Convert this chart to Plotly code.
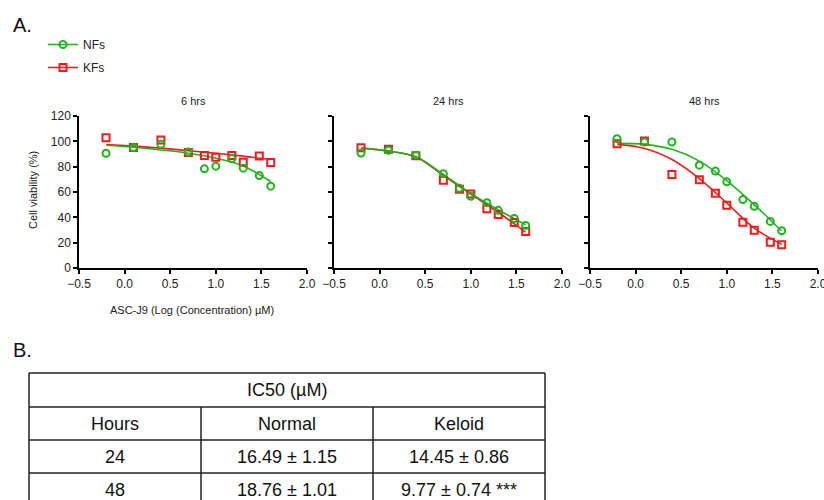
import plotly.graph_objects as go

W, H = 824, 500
PAGE_OFF = 0  # body margin removed via post_script below

# ---------------- data ----------------
log_conc = [-0.204, 0.097, 0.398, 0.699, 0.875, 1.0, 1.176, 1.301, 1.477, 1.602]

panels = ["6 hrs", "24 hrs", "48 hrs"]

nf_points = {
    "6 hrs":  [90.6, 95.1, 97.7, 91.6, 78.3, 80.4, 86.4, 78.8, 73.0, 64.6],
    "24 hrs": [90.7, 93.0, 89.1, 74.5, 62.9, 56.6, 51.5, 45.5, 39.1, 33.6],
    "48 hrs": [102.1, 99.5, 99.5, 81.2, 76.5, 68.0, 54.0, 48.7, 36.8, 29.4],
}
kf_points = {
    "6 hrs":  [102.9, 95.1, 101.1, 91.1, 88.8, 87.4, 88.8, 83.5, 88.5, 83.2],
    "24 hrs": [94.9, 93.8, 88.6, 69.3, 62.1, 58.4, 46.8, 42.3, 36.0, 28.8],
    "48 hrs": [98.1, 100.3, 73.8, 69.6, 59.0, 49.5, 36.2, 29.9, 20.4, 18.3],
}

# fitted curves
curve_x = [-0.2, 0.1, 0.4, 0.7, 1.0, 1.3, 1.6]
nf_curve = {
    "6 hrs":  [96.9, 95.3, 93.2, 90.6, 86.7, 80.6, 68.3],
    "24 hrs": [94.6, 92.3, 87.8, 73.8, 58.9, 46.0, 34.1],
    "48 hrs": [98.4, 97.6, 93.7, 84.4, 69.0, 50.0, 29.4],
}
kf_curve = {
    "6 hrs":  [97.5, 96.2, 94.6, 92.6, 90.6, 88.3, 85.6],
    "24 hrs": [94.6, 92.3, 87.6, 73.0, 58.3, 44.0, 28.3],
    "48 hrs": [97.6, 94.4, 85.7, 70.6, 51.3, 31.5, 18.8],
}

x_ticks = [-0.5, 0.0, 0.5, 1.0, 1.5, 2.0]
y_ticks = [0, 20, 40, 60, 80, 100, 120]

table_title = "IC50 (µM)"
table_header = ["Hours", "Normal", "Keloid"]
table_hours = ["24", "48"]
table_normal = ["16.49 ± 1.15", "18.76 ± 1.01"]
table_keloid = ["14.45 ± 0.86", "9.77 ± 0.74 ***"]

# ---------------- styling ----------------
GREEN = "#1fb31f"
RED = "#f01c1c"
FONT = "Arial, Liberation Sans, sans-serif"

def px(x):
    return (x - PAGE_OFF) / W

def py(y):
    return 1 - (y - PAGE_OFF) / H

def note(x, y, text, size, color="#222", angle=0, xanchor="center"):
    fig.add_annotation(x=px(x), y=py(y), xref="paper", yref="paper", text=text, textangle=angle,
                       xanchor=xanchor, yanchor="middle", showarrow=False,
                       font=dict(family=FONT, size=size, color=color))

plot_x = [(79, 307), (334, 562), (590, 818)]
plot_y = (116, 268)

fig = go.Figure()

for i, p in enumerate(panels):
    ax = "" if i == 0 else str(i + 1)
    xa, ya = "x" + ax, "y" + ax
    fig.add_trace(go.Scatter(x=curve_x, y=kf_curve[p], mode="lines", line=dict(color=RED, width=1.6, shape="spline"),
                             xaxis=xa, yaxis=ya, showlegend=False, hoverinfo="skip"))
    fig.add_trace(go.Scatter(x=curve_x, y=nf_curve[p], mode="lines", line=dict(color=GREEN, width=1.6, shape="spline"),
                             xaxis=xa, yaxis=ya, showlegend=False, hoverinfo="skip"))
    fig.add_trace(go.Scatter(x=log_conc, y=kf_points[p], mode="markers",
                             marker=dict(symbol="square-open", size=7, color=RED, line=dict(width=2)),
                             xaxis=xa, yaxis=ya, showlegend=False, cliponaxis=False))
    fig.add_trace(go.Scatter(x=log_conc, y=nf_points[p], mode="markers",
                             marker=dict(symbol="circle-open", size=7, color=GREEN, line=dict(width=2)),
                             xaxis=xa, yaxis=ya, showlegend=False, cliponaxis=False))

    x0, x1 = plot_x[i]
    common = dict(showgrid=False, zeroline=False, showline=True, linecolor="black", linewidth=1.5,
                  ticks="outside", ticklen=4, tickwidth=1.5, tickcolor="black", automargin=False,
                  ticklabeloverflow="allow",
                  tickfont=dict(family=FONT, size=12, color="#222"))
    fig.layout["xaxis" + ax] = dict(domain=[px(x0), px(x1)], range=[-0.5, 2.0], tickvals=x_ticks,
                                    tickformat=".1f", anchor=ya, **common)
    fig.layout["yaxis" + ax] = dict(domain=[py(plot_y[1]), py(plot_y[0])], range=[0, 120], tickvals=y_ticks,
                                    showticklabels=(i == 0), anchor=xa, **common)
    note((x0 + x1) / 2, 101, p, 11)

# legend entries
fig.add_trace(go.Scatter(x=[None], y=[None], mode="lines+markers", name="NFs", legendgroup="a",
                         line=dict(color=GREEN, width=1.6),
                         marker=dict(symbol="circle-open", size=7, color=GREEN, line=dict(width=2))))
fig.add_trace(go.Scatter(x=[None], y=[None], mode="lines+markers", name="KFs", legendgroup="b",
                         line=dict(color=RED, width=1.6),
                         marker=dict(symbol="square-open", size=7, color=RED, line=dict(width=2))))

# axis titles
note(192, 310, "ASC-J9 (Log (Concentration) µM)", 11)
note(33, 190, "Cell viability (%)", 11, angle=-90)

# panel labels
note(11, 25, "A.", 20, "#111", xanchor="left")
note(11, 350, "B.", 20, "#111", xanchor="left")

# table
tl, tr = 29, 545
cols = [29, 201, 373, 545]
rows = [373, 407, 440, 473, 506]
line = dict(color="#222", width=1.5)
for r in rows:
    fig.add_shape(type="line", xref="paper", yref="paper", x0=px(tl), x1=px(tr), y0=py(r), y1=py(r), line=line)
fig.add_shape(type="line", xref="paper", yref="paper", x0=px(tl), x1=px(tl), y0=py(rows[0]), y1=py(rows[-1]), line=line)
fig.add_shape(type="line", xref="paper", yref="paper", x0=px(tr), x1=px(tr), y0=py(rows[0]), y1=py(rows[-1]), line=line)
for c in cols[1:3]:
    fig.add_shape(type="line", xref="paper", yref="paper", x0=px(c), x1=px(c), y0=py(rows[1]), y1=py(rows[-1]), line=line)

note((tl + tr) / 2, (rows[0] + rows[1]) / 2, table_title, 18, "#111")
body = [table_header] + [list(r) for r in zip(table_hours, table_normal, table_keloid)]
for ri, row in enumerate(body):
    yc = (rows[ri + 1] + rows[ri + 2]) / 2
    for ci, txt in enumerate(row):
        note((cols[ci] + cols[ci + 1]) / 2, yc, txt, 18, "#111")

fig.update_layout(
    width=W, height=H, margin=dict(l=0, r=0, t=0, b=0, autoexpand=False),
    paper_bgcolor="white", plot_bgcolor="white",
    showlegend=True,
    legend=dict(x=px(43), y=py(30), xanchor="left", yanchor="top", tracegroupgap=4,
                font=dict(family=FONT, size=12, color="#222"), bgcolor="rgba(0,0,0,0)"),
)

fig.write_html("out.html", config={"displayModeBar": False},
               post_script="document.body.style.margin='0';document.documentElement.style.overflow='hidden';")
